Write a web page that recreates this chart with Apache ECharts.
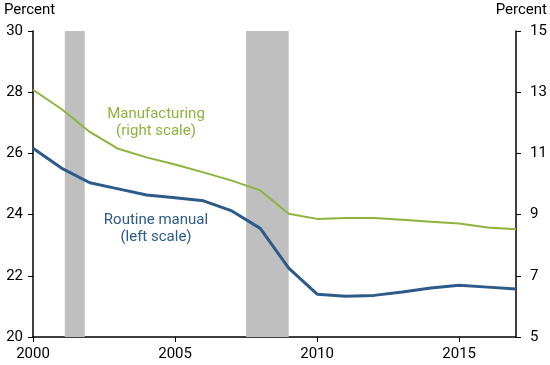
<!DOCTYPE html>
<html>
<head>
<meta charset="utf-8">
<script src="https://cdn.jsdelivr.net/npm/echarts@6/dist/echarts.min.js"></script>
<style>html,body{margin:0;padding:0;background:#fff}#c{width:550px;height:365px}</style>
</head>
<body>
<div id="c"></div>
<script>
const years = [2000,2001,2002,2003,2004,2005,2006,2007,2008,2009,2010,2011,2012,2013,2014,2015,2016,2017];
const routineManual = [26.17,25.52,25.04,24.84,24.64,24.55,24.45,24.12,23.55,22.25,21.40,21.33,21.36,21.47,21.60,21.69,21.63,21.57];
const manufacturing = [13.08,12.45,11.70,11.15,10.87,10.64,10.38,10.11,9.79,9.03,8.86,8.89,8.89,8.83,8.77,8.71,8.58,8.52];
const recessions = [[2001.12, 2001.82], [2007.5, 2009.0]];
const xTicks = [2000,2005,2010,2015];
const leftTicks = [20,22,24,26,28,30];
const rightTicks = [5,7,9,11,13,15];

const FONT = 'Roboto';
const FS = 15;
const BLUE = '#2c5b8a';
const GREEN = '#8cb43c';

const chart = echarts.init(document.getElementById('c'), null, {renderer:'canvas'});
chart.setOption({
  animation: false,
  backgroundColor: '#fff',
  textStyle: {fontFamily: FONT},
  grid: {left: 33, right: 34, top: 31, bottom: 28, containLabel: false},
  xAxis: {
    type: 'value', min: 2000, max: 2017,
    axisLine: {show: true, lineStyle: {color: '#000', width: 1.5}},
    axisTick: {show: true, length: 5, lineStyle: {color: '#000'}, customValues: xTicks},
    axisLabel: {color: '#000', fontSize: FS, fontFamily: FONT, margin: 10, customValues: xTicks, formatter: v => String(v)},
    splitLine: {show: false}
  },
  yAxis: [
    {
      type: 'value', min: 20, max: 30, position: 'left',
      axisLine: {show: true, lineStyle: {color: '#000', width: 1.5}},
      axisTick: {show: true, length: 5, lineStyle: {color: '#000'}, customValues: leftTicks},
      axisLabel: {color: '#000', fontSize: FS, fontFamily: FONT, margin: 10, customValues: leftTicks},
      splitLine: {show: false}
    },
    {
      type: 'value', min: 5, max: 15, position: 'right',
      axisLine: {show: true, lineStyle: {color: '#000', width: 1.5}},
      axisTick: {show: true, length: 5, lineStyle: {color: '#000'}, customValues: rightTicks},
      axisLabel: {color: '#000', fontSize: FS, fontFamily: FONT, margin: 14, customValues: rightTicks},
      splitLine: {show: false}
    }
  ],
  graphic: [
    {type: 'text', left: 4, top: 3, style: {text: 'Percent', fontSize: FS, fontFamily: FONT, fill: '#000'}},
    {type: 'text', right: 3, top: 3, style: {text: 'Percent', fontSize: FS, fontFamily: FONT, fill: '#000'}},
    {type: 'text', x: 156, y: 123, style: {text: 'Manufacturing\n(right scale)', fontSize: FS, lineHeight: 17, fontFamily: FONT, fill: GREEN, align: 'center', verticalAlign: 'middle'}},
    {type: 'text', x: 156, y: 229, style: {text: 'Routine manual\n(left scale)', fontSize: FS, lineHeight: 17, fontFamily: FONT, fill: BLUE, align: 'center', verticalAlign: 'middle'}}
  ],
  series: [
    {
      name: 'Recessions', type: 'line', data: [], yAxisIndex: 0, silent: true,
      markArea: {
        silent: true,
        itemStyle: {color: '#bfbfbf', opacity: 1},
        data: recessions.map(r => [{xAxis: r[0]}, {xAxis: r[1]}])
      },
      z: 1
    },
    {
      name: 'Manufacturing', type: 'line', yAxisIndex: 1,
      data: years.map((y, i) => [y, manufacturing[i]]),
      showSymbol: false, lineStyle: {color: GREEN, width: 2}, itemStyle: {color: GREEN}, z: 3
    },
    {
      name: 'Routine manual', type: 'line', yAxisIndex: 0,
      data: years.map((y, i) => [y, routineManual[i]]),
      showSymbol: false, lineStyle: {color: BLUE, width: 3}, itemStyle: {color: BLUE}, z: 4
    }
  ]
});
</script>
</body>
</html>
